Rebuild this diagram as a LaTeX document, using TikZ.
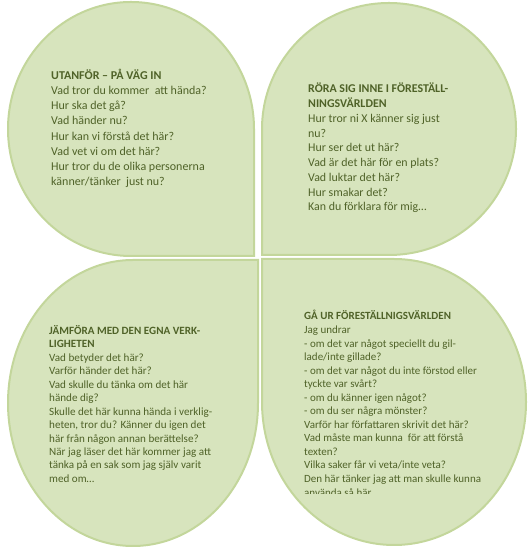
\documentclass[tikz,border=0pt]{standalone}
\usepackage{fontspec}
\setmainfont{Carlito}
\definecolor{petalfill}{HTML}{D7E4BD}
\definecolor{petalline}{HTML}{C3D69B}
\definecolor{petaltext}{HTML}{4F6228}
\begin{document}
\begin{tikzpicture}[x=1pt,y=1pt,
  petal/.style={fill=petalfill, draw=petalline, line width=2pt, line join=miter},
  ln/.style={anchor=base west, inner sep=0pt, text=petaltext}]
\useasboundingbox (0,0) rectangle (531,553);
% top-left petal (sharp corner bottom-right)
\path[petal] (254,297) coordinate (tlc) -- (131,297)
  arc[start angle=270, end angle=180, x radius=123, y radius=127]
  arc[start angle=180, end angle=90, x radius=123, y radius=127]
  arc[start angle=90, end angle=0, x radius=123, y radius=127] -- cycle;
% top-right petal (sharp corner bottom-left)
\path[petal] (262,298) coordinate (trc) -- (262,424)
  arc[start angle=180, end angle=90, x radius=127, y radius=126]
  arc[start angle=90, end angle=0, x radius=127, y radius=126]
  arc[start angle=0, end angle=-90, x radius=127, y radius=126] -- cycle;
% bottom-left petal (sharp corner top-right)
\path[petal] (258,293) coordinate (blc) -- (133,293)
  arc[start angle=90, end angle=180, x radius=125, y radius=143]
  arc[start angle=180, end angle=270, x radius=125, y radius=143]
  arc[start angle=270, end angle=360, x radius=125, y radius=143] -- cycle;
% bottom-right petal (sharp corner top-left)
\path[petal] (262,294) coordinate (brc) -- (262,151)
  arc[start angle=180, end angle=270, x radius=132, y radius=143]
  arc[start angle=270, end angle=360, x radius=132, y radius=143]
  arc[start angle=0, end angle=90, x radius=132, y radius=143] -- cycle;
% texts
\foreach \t [count=\i] in {{\bfseries UTANFÖR – PÅ VÄG IN},
  Vad tror du kommer\ \ att hända?, Hur ska det gå?, Vad händer nu?,
  Hur kan vi förstå det här?, Vad vet vi om det här?,
  Hur tror du de olika personerna, känner/tänker\ \ just nu?}
  \node[ln, font=\fontsize{12.0}{14}\selectfont] (tl\i) at (51,{473.5-(\i-1)*15.14}) {\t};
\foreach \t [count=\i] in {{\bfseries RÖRA SIG INNE I FÖRESTÄLL-}, {\bfseries NINGSVÄRLDEN},
  Hur tror ni X känner sig just, nu?, Hur ser det ut här?,
  Vad är det här för en plats?, Vad luktar det här?, Hur smakar det?,
  Kan du förklara för mig…}
  \node[ln, font=\fontsize{11.9}{14}\selectfont] (tr\i) at (308,{460-(\i-1)*14.75}) {\t};
\foreach \t [count=\i] in {{\bfseries JÄMFÖRA MED DEN EGNA VERK-}, {\bfseries LIGHETEN},
  Vad betyder det här?, Varför händer det här?, Vad skulle du tänka om det här,
  hände dig?, Skulle det här kunna hända i verklig-,
  {heten, tror du? Känner du igen det}, här från någon annan berättelse?,
  När jag läser det här kommer jag att, tänka på en sak som jag själv varit,
  med om…}
  \node[ln, font=\fontsize{11.1}{13}\selectfont] (bl\i) at (49,{218.5-(\i-1)*13.45}) {\t};
\begin{scope}
\clip (262,59.5) rectangle (531,300);
\foreach \t [count=\i] in {{\bfseries GÅ UR FÖRESTÄLLNIGSVÄRLDEN}, Jag undrar,
  - om det var något speciellt du gil-, lade/inte gillade?,
  - om det var något du inte förstod eller, tyckte var svårt?,
  - om du känner igen något?, - om du ser några mönster?,
  Varför har författaren skrivit det här?, Vad måste man kunna\ \ för att förstå,
  texten?, Vilka saker får vi veta/inte veta?,
  Den här tänker jag att man skulle kunna, använda så här}
  \node[ln, font=\fontsize{11.0}{13}\selectfont] (br\i) at (304,{233-(\i-1)*13.54}) {\t};
\end{scope}
\end{tikzpicture}
\end{document}
